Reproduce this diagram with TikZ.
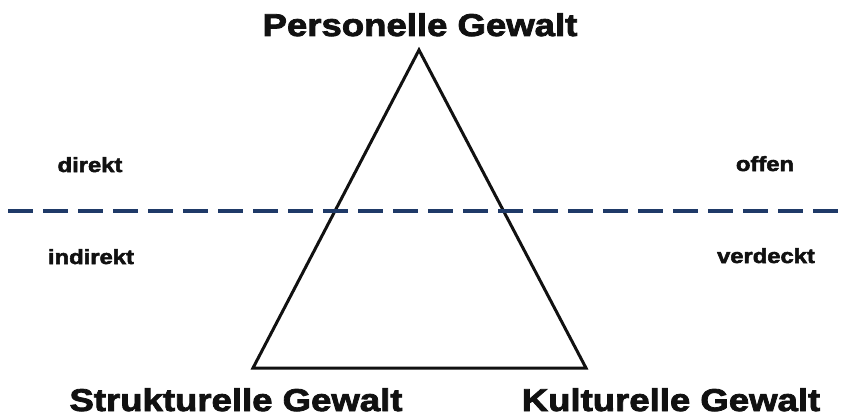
\documentclass[tikz,border=0pt]{standalone}
\usepackage{fontspec}
\newfontfamily\heavy{Liberation Sans Bold}[FakeBold=2.6,FakeStretch=1.16]
\definecolor{navy}{HTML}{1F3A68}
\definecolor{ink}{HTML}{111111}
\begin{document}
\begin{tikzpicture}[x=1pt,y=-1pt,
  big/.style={font=\heavy\fontsize{31.5}{36}\selectfont, text=ink, anchor=base, inner sep=0pt},
  small/.style={font=\heavy\fontsize{20.5}{24}\selectfont, text=ink, anchor=base, inner sep=0pt},
  tri/.style={draw=ink, line width=3pt, line join=miter},
  divider/.style={draw=navy, line width=3.3pt, dash pattern=on 25pt off 10pt}]
\useasboundingbox (0,0) rectangle (846,420);
\fill[white] (0,0) rectangle (846,420);
\coordinate (apex) at (419,50);
\coordinate (bl) at (253,368);
\coordinate (br) at (586,368);
\coordinate (dl) at (8,211);
\coordinate (dr) at (846,211);
\draw[tri] (apex) -- (bl) -- (br) -- cycle;
\draw[divider] (dl) -- (dr);
\node[big] (pers) at (420,36) {Personelle Gewalt};
\node[big] (strukt) at (236,411) {Strukturelle Gewalt};
\node[big] (kult) at (671,411) {Kulturelle Gewalt};
\node[small] (direkt) at (90,172) {direkt};
\node[small] (indirekt) at (91,264) {indirekt};
\node[small] (offen) at (765,171) {offen};
\node[small] (verdeckt) at (766,263) {verdeckt};
\end{tikzpicture}
\end{document}
